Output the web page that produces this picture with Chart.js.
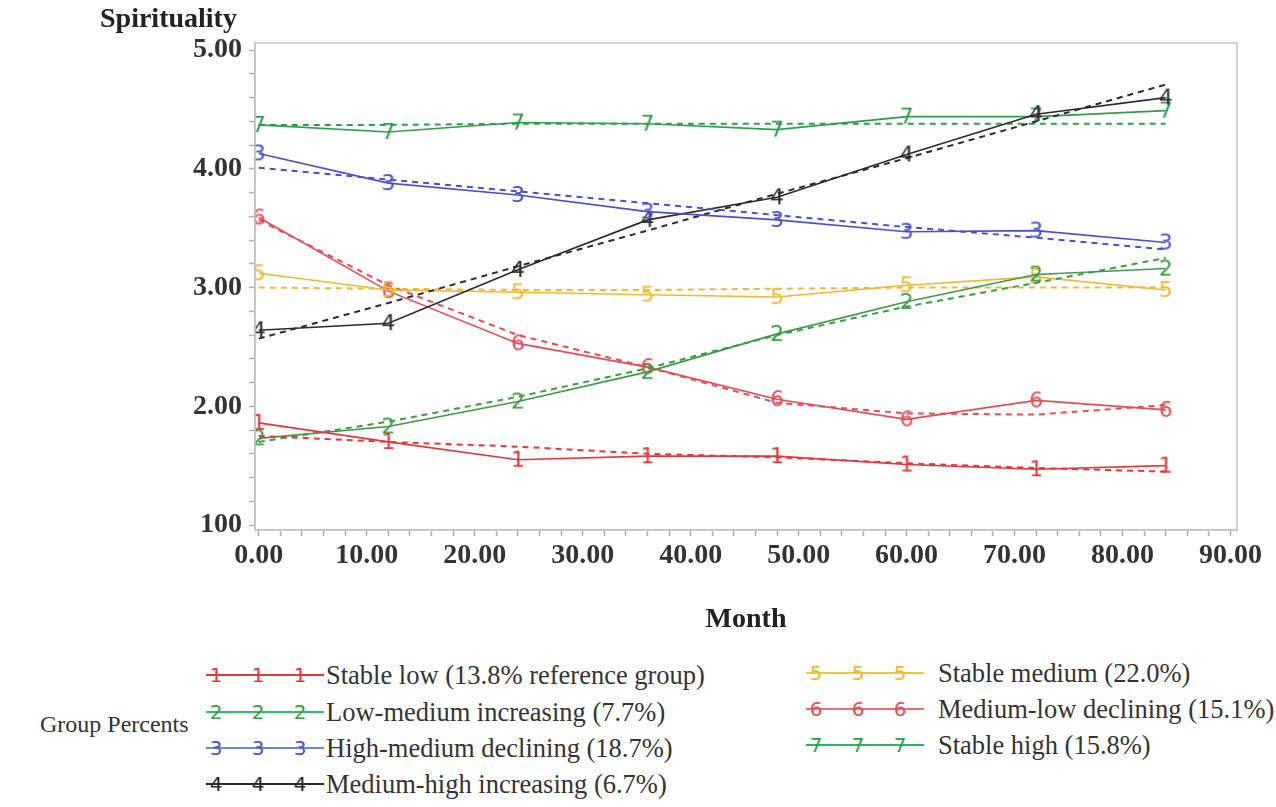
<!DOCTYPE html>
<html>
<head>
<meta charset="utf-8">
<script src="https://cdn.jsdelivr.net/npm/chart.js@4.4.1/dist/chart.umd.min.js"></script>
<style>
  body { margin: 0; background: #fff; font-family: "Liberation Serif", serif; }
  #page { position: relative; width: 1276px; height: 807px; overflow: hidden; }
  #wrap { position: absolute; left: 0; top: 0; width: 1276px; height: 650px; }
  .ytitle { position: absolute; left: 100px; top: 2px; font: bold 28px "Liberation Serif", serif; color: #222; }
  .legTitle { position: absolute; left: 40px; top: 711px; font: 24px "Liberation Serif", serif; color: #333; }
  .leg { position: absolute; height: 32px; }
  .leg .sample { position: absolute; left: 0; top: 0; width: 118px; height: 32px; }
  .leg .sample .ln { position: absolute; left: 0; right: 0; top: 15px; height: 2px; }
  .leg .sample span { position: absolute; top: 4px; font: 20px "DejaVu Sans", sans-serif; width: 14px; text-align: center; }
  .leg .txt { position: absolute; top: 0; white-space: nowrap; font: 26.5px "Liberation Serif", serif; color: #333; line-height: 32px; }
</style>
</head>
<body>
<div id="page">
  <div id="wrap"><canvas id="myChart"></canvas></div>
  <div class="ytitle">Spirituality</div>
  <div class="legTitle">Group Percents</div>
  <div id="legend"></div>
</div>
<script>
//Data
const months = [0, 12, 24, 36, 48, 60, 72, 84];
const groupNames = [
  "Stable low (13.8% reference group)",
  "Low-medium increasing (7.7%)",
  "High-medium declining (18.7%)",
  "Medium-high increasing (6.7%)",
  "Stable medium (22.0%)",
  "Medium-low declining (15.1%)",
  "Stable high (15.8%)"
];
const groupSymbols = ["1", "2", "3", "4", "5", "6", "7"];
const groupColors = ["#e8353a", "#3d9a46", "#4d4dd2", "#2b2b2b", "#f0b830", "#e84a58", "#2e9e4e"];
const legendLineColors = ["#e8353a", "#22c55e", "#6a8ad6", "#2b2b2b", "#f3c63a", "#f06a78", "#22b860"];

const observed1 = [1.86, 1.70, 1.55, 1.58, 1.58, 1.51, 1.47, 1.50];
const observed2 = [1.73, 1.83, 2.04, 2.29, 2.61, 2.88, 3.11, 3.16];
const observed3 = [4.13, 3.88, 3.78, 3.64, 3.57, 3.47, 3.48, 3.38];
const observed4 = [2.64, 2.70, 3.15, 3.57, 3.76, 4.12, 4.46, 4.60];
const observed5 = [3.12, 2.98, 2.96, 2.94, 2.92, 3.02, 3.09, 2.98];
const observed6 = [3.59, 2.97, 2.53, 2.33, 2.06, 1.89, 2.05, 1.97];
const observed7 = [4.37, 4.31, 4.39, 4.38, 4.33, 4.44, 4.44, 4.49];

const predicted1 = [1.75, 1.70, 1.66, 1.60, 1.57, 1.52, 1.48, 1.45];
const predicted2 = [1.70, 1.87, 2.08, 2.32, 2.60, 2.84, 3.04, 3.25];
const predicted3 = [4.01, 3.91, 3.81, 3.71, 3.61, 3.51, 3.42, 3.32];
const predicted4 = [2.57, 2.87, 3.18, 3.48, 3.79, 4.09, 4.40, 4.71];
const predicted5 = [3.00, 2.99, 2.98, 2.98, 2.99, 3.00, 3.00, 3.00];
const predicted6 = [3.57, 3.02, 2.60, 2.33, 2.03, 1.94, 1.93, 2.01];
const predicted7 = [4.37, 4.37, 4.38, 4.38, 4.38, 4.38, 4.38, 4.38];

const observed = [observed1, observed2, observed3, observed4, observed5, observed6, observed7];
const predicted = [predicted1, predicted2, predicted3, predicted4, predicted5, predicted6, predicted7];

const xTickValues = [0, 10, 20, 30, 40, 50, 60, 70, 80, 90];
const xTickLabels = ["0.00", "10.00", "20.00", "30.00", "40.00", "50.00", "60.00", "70.00", "80.00", "90.00"];
const yTickValues = [1, 2, 3, 4, 5];
const yTickLabels = ["100", "2.00", "3.00", "4.00", "5.00"];

//Make a little canvas with the group number, used as the point marker
const makeSymbol = function(txt, color) {
  const c = document.createElement("canvas");
  c.width = 18; c.height = 28;
  const g = c.getContext("2d");
  g.font = '22px "DejaVu Sans"';
  g.fillStyle = color;
  g.textAlign = "center";
  g.textBaseline = "middle";
  g.fillText(txt, 9, 15);
  return c;
};

const toPoints = function(arr) {
  return arr.map((v, i) => ({x: months[i], y: v}));
};

const datasets = [];
for (let i = 0; i < groupNames.length; i++) {
  datasets.push({
    label: groupNames[i] + " predicted",
    data: toPoints(predicted[i]),
    borderColor: groupColors[i],
    borderWidth: 2,
    borderDash: [6, 5],
    pointRadius: 0,
    fill: false,
    tension: 0
  });
  datasets.push({
    label: groupNames[i],
    data: toPoints(observed[i]),
    borderColor: groupColors[i],
    borderWidth: 1.6,
    pointStyle: makeSymbol(groupSymbols[i], groupColors[i]),
    pointRadius: 9,
    fill: false,
    tension: 0
  });
}

//Draws the grey frame round the plot area
const framePlugin = {
  id: "frame",
  afterDatasetsDraw(chart) {
    const a = chart.chartArea;
    const ctx = chart.ctx;
    ctx.save();
    ctx.strokeStyle = "#c4c4c4";
    ctx.lineWidth = 1.5;
    ctx.strokeRect(a.left, a.top, a.right - a.left, a.bottom - a.top);
    ctx.restore();
  }
};

const isMajor = function(v, list) {
  return list.findIndex(t => Math.abs(t - v) < 1e-6);
};

const tickFont = {family: "Liberation Serif", size: 28, weight: "bold"};

const ctx = document.getElementById("myChart");
const myChart = new Chart(ctx, {
  type: "line",
  data: {datasets: datasets},
  plugins: [framePlugin],
  options: {
    responsive: true,
    maintainAspectRatio: false,
    animation: false,
    events: [],
    layout: {padding: {left: 0, right: 39, top: 43, bottom: 0}},
    plugins: {legend: {display: false}, tooltip: {enabled: false}},
    scales: {
      x: {
        type: "linear",
        min: -0.35,
        max: 90.6,
        afterFit: s => { s.height = 120; },
        afterBuildTicks: s => {
          const t = [];
          for (let v = 0; v <= 90; v += 2) t.push({value: v});
          s.ticks = t;
        },
        grid: {drawOnChartArea: false, color: "#b0b0b0", tickLength: 6, tickWidth: 1.5},
        border: {color: "#c4c4c4", width: 1.5},
        ticks: {
          autoSkip: false,
          maxRotation: 0,
          padding: 3,
          color: "#333",
          font: tickFont,
          callback: v => { const k = isMajor(v, xTickValues); return k >= 0 ? xTickLabels[k] : ""; }
        },
        title: {display: true, text: "Month", color: "#222", font: {family: "Liberation Serif", size: 28, weight: "bold"}, padding: {top: 0, bottom: 13}}
      },
      y: {
        type: "linear",
        min: 0.958,
        max: 5.06,
        afterFit: s => { s.width = 255; },
        afterBuildTicks: s => {
          const t = [];
          for (let k = 5; k <= 25; k++) t.push({value: k / 5});
          s.ticks = t;
        },
        grid: {drawOnChartArea: false, color: "#b0b0b0", tickLength: 6, tickWidth: 1.5},
        border: {color: "#c4c4c4", width: 1.5},
        ticks: {
          autoSkip: false,
          padding: 7,
          color: "#333",
          font: tickFont,
          callback: v => { const k = isMajor(v, yTickValues); return k >= 0 ? yTickLabels[k] : ""; }
        }
      }
    }
  }
});

//Build the legend from the group arrays
const legendSpots = [
  {left: 206, top: 659}, {left: 206, top: 696}, {left: 206, top: 732}, {left: 206, top: 768},
  {left: 806, top: 657}, {left: 806, top: 693}, {left: 806, top: 729}
];
let output = ``;
for (let i = 0; i < groupNames.length; i++) {
  const p = legendSpots[i];
  const txtLeft = i < 4 ? 120 : 132;
  output += `<div class="leg" style="left:${p.left}px;top:${p.top}px">
    <div class="sample"><div class="ln" style="background:${legendLineColors[i]}"></div>
      <span style="left:3px;color:${groupColors[i]}">${groupSymbols[i]}</span>
      <span style="left:45px;color:${groupColors[i]}">${groupSymbols[i]}</span>
      <span style="left:87px;color:${groupColors[i]}">${groupSymbols[i]}</span></div>
    <div class="txt" style="left:${txtLeft}px">${groupNames[i]}</div></div>`;
}
document.getElementById("legend").innerHTML = output;
</script>
</body>
</html>
